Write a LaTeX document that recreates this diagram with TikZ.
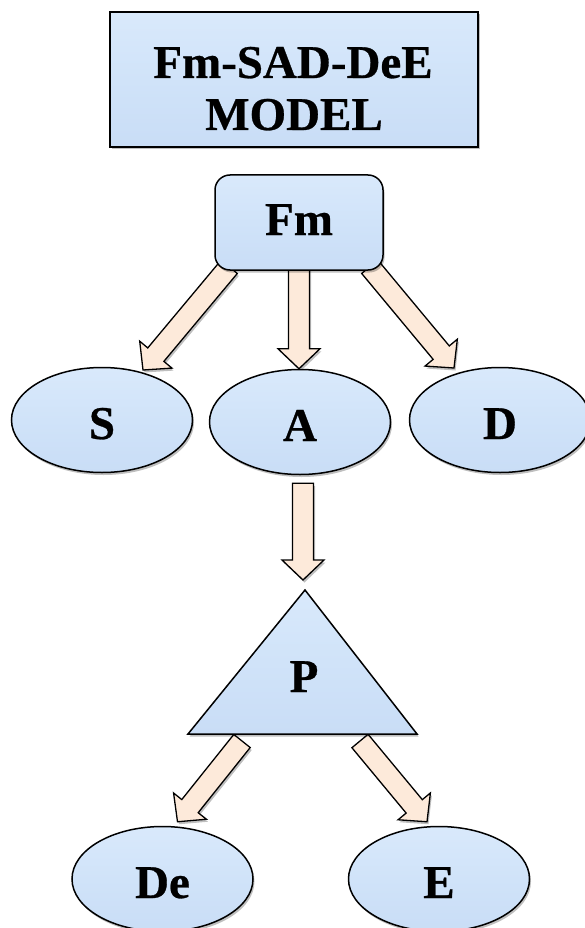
\documentclass[tikz,border=0pt]{standalone}
\usepackage{fontspec}
\setmainfont{Liberation Serif}[BoldFeatures={FakeBold=0.6}]
\usetikzlibrary{shapes.geometric,calc,shadows,backgrounds}
\definecolor{boxtop}{HTML}{D9E9FB}
\definecolor{boxmid}{HTML}{D0E3F9}
\definecolor{boxbot}{HTML}{C9DDF6}
\definecolor{arrowfill}{HTML}{FDEADA}
\tikzset{
  lbl/.style={font=\fontsize{47}{52}\selectfont\bfseries, inner sep=0pt},
  softshadow/.style={drop shadow={shadow xshift=1.5pt, shadow yshift=-2.5pt, opacity=0.25, fill=black}},
  shapestyle/.style={draw=black, line width=1.5pt, top color=boxtop, bottom color=boxbot, middle color=boxmid, softshadow},
  ellnode/.style={shapestyle, lbl, ellipse, minimum width=181pt, minimum height=105pt, text height=38pt, text depth=0pt},
  arrowstyle/.style={draw=black, line width=1.3pt, fill=arrowfill, line join=miter, softshadow},
}
\newcommand\blockarrow[2]{%
  \coordinate (ba-h) at ($(#2)!20pt!(#1)$);
  \draw[arrowstyle] ($(#1)!10.5pt!90:(#2)$) -- ($(ba-h)!10.5pt!90:(#2)$)
    -- ($(ba-h)!21pt!90:(#2)$) -- (#2) -- ($(ba-h)!21pt!-90:(#2)$)
    -- ($(ba-h)!10.5pt!-90:(#2)$) -- ($(#1)!10.5pt!-90:(#2)$) -- cycle;
}
\begin{document}
\begin{tikzpicture}[x=1pt,y=-1pt]
\useasboundingbox (0,0) rectangle (584,928);
% title
\node[shapestyle, line width=2pt, rectangle, minimum width=368pt, minimum height=135pt] (title) at (294,79.5) {};
\node[lbl, anchor=base] (titleA) at (293,78) {Fm-SAD-DeE};
\node[lbl, anchor=base] (titleB) at (294,130) {MODEL};
% Fm
\node[shapestyle, lbl, rectangle, rounded corners=15pt, minimum width=168pt, minimum height=95pt, text height=25pt, text depth=0pt] (Fm) at (299,222.5) {Fm};
% S A D
\node[ellnode] (S) at (102,420) {S};
\node[ellnode] (A) at (300,422) {A};
\node[ellnode] (D) at (500,420) {D};
% triangle P
\coordinate (Pt) at (305,590);
\coordinate (Pl) at (188,734);
\coordinate (Pr) at (417,734);
\draw[shapestyle, line join=miter] (Pt) -- (Pr) -- (Pl) -- cycle;
\node[lbl, anchor=base] (P) at (304,692) {P};
% De E
\node[ellnode] (De) at (162.5,879) {De};
\node[ellnode] (E) at (439,879) {E};
% arrows
\begin{pgfonlayer}{background}
  \coordinate (t1) at ($(Fm.south west)+(15,-4)$);
  \coordinate (h1) at ($(S.center)+(41,-50)$);
  \blockarrow{t1}{h1}
  \coordinate (t2) at ($(Fm.south)+(0,-4)$);
  \coordinate (h2) at (A.north -| Fm.south);
  \blockarrow{t2}{h2}
  \coordinate (t3) at ($(Fm.south east)+(-14,-4)$);
  \coordinate (h3) at ($(D.center)+(-46,-52)$);
  \blockarrow{t3}{h3}
  \coordinate (t4) at ($(A.south)+(3,8)$);
  \coordinate (h4) at ($(Pt)+(-2,-10)$);
  \blockarrow{t4}{h4}
  \coordinate (t5) at ($(Pl)+(54,7)$);
  \coordinate (h5) at ($(De.north)+(15,-4)$);
  \blockarrow{t5}{h5}
  \coordinate (t6) at ($(Pr)+(-57,7)$);
  \coordinate (h6) at ($(E.north)+(-12,-4)$);
  \blockarrow{t6}{h6}
\end{pgfonlayer}
\end{tikzpicture}
\end{document}
